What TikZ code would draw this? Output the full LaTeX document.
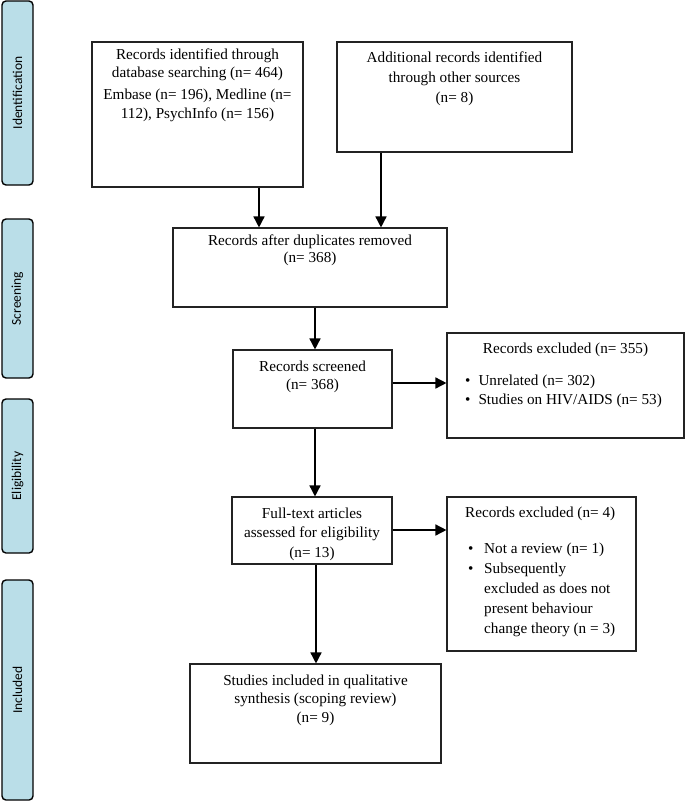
\documentclass[tikz,border=0pt]{standalone}
\usepackage{fontspec}
\setmainfont{Liberation Serif}
\newfontfamily\sidefont{Carlito}
\usetikzlibrary{arrows.meta}
\definecolor{barblue}{RGB}{186,222,232}
\definecolor{boxline}{RGB}{35,35,35}
\newcommand\firstline{\rule{0pt}{12pt}}
\tikzset{
  sidebar/.style={draw=black, line width=1.4pt, fill=barblue, rounded corners=4pt},
  sidelabel/.style={rotate=90, font=\sidefont\fontsize{13.5}{16}\selectfont, inner sep=0pt},
  flowbox/.style={draw=boxline, line width=1.1pt},
  boxtext/.style={anchor=north, inner sep=0pt, align=center, font=\fontsize{15.2}{18.6}\selectfont},
  lefttext/.style={anchor=north west, inner sep=0pt, align=left, font=\fontsize{15.2}{20}\selectfont},
  arr/.style={line width=1.5pt, -{Triangle[length=11pt,width=11pt]}}
}
\begin{document}
\begin{tikzpicture}[x=1pt,y=-1pt]
\useasboundingbox (0,0) rectangle (685,804);
% side bars
\draw[sidebar] (2,1) rectangle (33,185);
\draw[sidebar] (2,219) rectangle (33,378);
\draw[sidebar] (2,399) rectangle (33,553);
\draw[sidebar] (2,580) rectangle (33,800);
\node[sidelabel] (lid) at (17.5,93) {Identification};
\node[sidelabel] (lsc) at (17.5,298.5) {Screening};
\node[sidelabel] (lel) at (17.5,476) {Eligibility};
\node[sidelabel] (lin) at (17.5,690) {Included};
% boxes
\node[flowbox, minimum width=211pt, minimum height=145pt, inner sep=0pt] (b1) at (197.5,114.5) {};
\node[flowbox, minimum width=235pt, minimum height=110pt, inner sep=0pt] (b2) at (454.5,97) {};
\node[flowbox, minimum width=274pt, minimum height=79pt, inner sep=0pt] (b3) at (310,267.5) {};
\node[flowbox, minimum width=159pt, minimum height=78pt, inner sep=0pt] (b4) at (312.5,389) {};
\node[flowbox, minimum width=237pt, minimum height=105pt, inner sep=0pt] (b5) at (565.5,385.5) {};
\node[flowbox, minimum width=160pt, minimum height=67pt, inner sep=0pt] (b6) at (312,530.5) {};
\node[flowbox, minimum width=189pt, minimum height=154pt, inner sep=0pt] (b7) at (541.5,574) {};
\node[flowbox, minimum width=251pt, minimum height=99pt, inner sep=0pt] (b8) at (315.5,713.5) {};
% texts
\node[boxtext] (t1) at (197.5,47) {\firstline Records identified through\\database searching (n= 464)\\[3pt]Embase (n= 196), Medline (n=\\112), PsychInfo (n= 156)};
\node[boxtext, font=\fontsize{15.2}{20}\selectfont] (t2) at (454.5,50) {\firstline Additional records identified\\through other sources\\(n= 8)};
\node[boxtext, font=\fontsize{15.2}{17.5}\selectfont] (t3) at (310,233) {\firstline Records after duplicates removed\\(n= 368)};
\node[boxtext] (t4) at (312.5,359) {\firstline Records screened\\(n= 368)};
\node[boxtext] (t5) at (565.5,341) {\firstline Records excluded (n= 355)};
\node[lefttext, font=\fontsize{15.2}{19}\selectfont] (t5b) at (465,373) {\firstline\textbullet\hspace{8pt}Unrelated (n= 302)\\\textbullet\hspace{8pt}Studies on HIV/AIDS (n= 53)};
\node[boxtext, font=\fontsize{15.2}{19.5}\selectfont] (t6) at (312,506) {\firstline Full-text articles\\assessed for eligibility\\(n= 13)};
\node[lefttext] (t7) at (465,505) {\firstline Records excluded (n= 4)};
\node[lefttext] (t7a) at (468,541) {\firstline\textbullet};
\node[lefttext] (t7b) at (468,561) {\firstline\textbullet};
\node[lefttext] (t7c) at (484,541) {\firstline Not a review (n= 1)};
\node[lefttext] (t7d) at (484,561) {\firstline Subsequently\\excluded as does not\\present behaviour\\change theory (n = 3)};
\node[boxtext] (t8) at (315.5,673) {\firstline Studies included in qualitative\\synthesis (scoping review)\\(n= 9)};
% connectors
\draw[arr] (b1.south -| 259,0) -- (b3.north -| 259,0);
\draw[arr] (b2.south -| 381,0) -- (b3.north -| 381,0);
\draw[arr] (b3.south -| 315,0) -- (b4.north -| 315,0);
\draw[arr] (b4.east |- 0,383) -- (b5.west |- 0,383);
\draw[arr] (b4.south -| 315,0) -- (b6.north -| 315,0);
\draw[arr] (b6.east |- 0,530) -- (b7.west |- 0,530);
\draw[arr] (b6.south -| 316,0) -- (b8.north -| 316,0);
\end{tikzpicture}
\end{document}
